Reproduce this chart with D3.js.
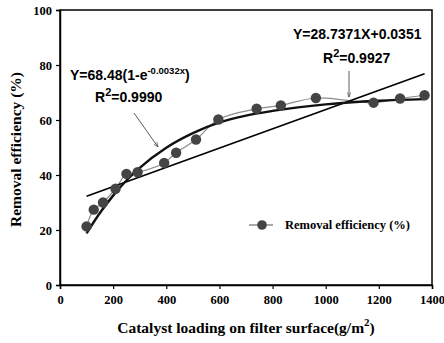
<!DOCTYPE html>
<html>
<head>
<meta charset="utf-8">
<script src="https://cdn.jsdelivr.net/npm/d3@7"></script>
<style>
body { margin: 0; background: #fff; }
svg text { fill: #000; }
</style>
</head>
<body>
<div id="chart"></div>
<script>
const loading = [100, 127, 162, 209, 250, 292, 392, 437, 512, 596, 740, 831, 963, 1180, 1280, 1372];
const removal = [21.3, 27.4, 30.0, 35.0, 40.4, 41.0, 44.4, 48.1, 52.9, 60.2, 64.1, 65.3, 68.0, 66.3, 67.8, 69.0];

// exponential fit curve
const fitX = [100, 150, 200, 250, 300, 400, 500, 600, 700, 800, 1000, 1200, 1372];
const fitY = [18.8, 26.2, 32.5, 38.0, 42.6, 49.9, 55.2, 59.1, 61.6, 63.3, 65.7, 67.0, 67.6];

// linear fit ends
const linX = [100, 1372];
const linY = [32.3, 76.8];

const xTicks = [0, 200, 400, 600, 800, 1000, 1200, 1400];
const yTicks = [0, 20, 40, 60, 80, 100];

const width = 444, height = 343;
const margin = {left: 60, right: 12, top: 10, bottom: 58};

const svg = d3.select("#chart").append("svg")
    .attr("width", width)
    .attr("height", height);

const x = d3.scaleLinear().domain([0, 1400]).range([margin.left, width - margin.right]);
const y = d3.scaleLinear().domain([0, 100]).range([height - margin.bottom, margin.top]);

// frame
svg.append("rect")
    .attr("x", x(0)).attr("y", y(100))
    .attr("width", x(1400) - x(0)).attr("height", y(0) - y(100))
    .attr("fill", "none").attr("stroke", "#000").attr("stroke-width", 1.5);

const xAxis = svg.append("g")
    .attr("transform", `translate(0,${y(0)})`)
    .call(d3.axisBottom(x).tickValues(xTicks).tickFormat(d3.format("d")).tickSize(4).tickPadding(6));
const yAxis = svg.append("g")
    .attr("transform", `translate(${x(0)},0)`)
    .call(d3.axisLeft(y).tickValues(yTicks).tickFormat(d3.format("d")).tickSize(4).tickPadding(4));

[xAxis, yAxis].forEach(a => {
    a.select(".domain").attr("stroke-width", 1.5);
    a.selectAll("line").attr("stroke-width", 1.2);
    a.selectAll("text")
        .attr("font-family", "Liberation Serif")
        .attr("font-weight", "bold")
        .attr("font-size", 12.5)
        .attr("fill", "#000");
});

// axis titles
svg.append("text")
    .attr("x", (x(0) + x(1400)) / 2).attr("y", 333)
    .attr("text-anchor", "middle")
    .attr("font-family", "Liberation Serif").attr("font-weight", "bold").attr("font-size", 15.5)
    .html('Catalyst loading on filter surface(g/m<tspan dy="-7" font-size="11">2</tspan><tspan dy="7">)</tspan>');

svg.append("text")
    .attr("transform", `translate(21,${(y(0) + y(100)) / 2 + 2}) rotate(-90)`)
    .attr("text-anchor", "middle")
    .attr("font-family", "Liberation Serif").attr("font-weight", "bold").attr("font-size", 15.5)
    .text("Removal efficiency (%)");

// data series with smoothed line
const pts = loading.map((d, i) => [d, removal[i]]);
svg.append("path")
    .datum(pts)
    .attr("fill", "none").attr("stroke", "#8c8c8c").attr("stroke-width", 1.2)
    .attr("d", d3.line().x(d => x(d[0])).y(d => y(d[1])).curve(d3.curveCatmullRom));

// linear fit
svg.append("line")
    .attr("x1", x(linX[0])).attr("y1", y(linY[0]))
    .attr("x2", x(linX[1])).attr("y2", y(linY[1]))
    .attr("stroke", "#000").attr("stroke-width", 1.6);

// exponential fit
svg.append("path")
    .datum(fitX.map((d, i) => [d, fitY[i]]))
    .attr("fill", "none").attr("stroke", "#111").attr("stroke-width", 2.4)
    .attr("d", d3.line().x(d => x(d[0])).y(d => y(d[1])).curve(d3.curveMonotoneX));

svg.selectAll("circle.pt")
    .data(pts)
    .enter().append("circle")
    .attr("class", "pt")
    .attr("cx", d => x(d[0])).attr("cy", d => y(d[1]))
    .attr("r", 5.2)
    .attr("fill", "#444");

// arrows
svg.append("defs").append("marker")
    .attr("id", "arr").attr("viewBox", "0 0 10 10")
    .attr("refX", 10).attr("refY", 5)
    .attr("markerWidth", 6).attr("markerHeight", 6)
    .attr("orient", "auto")
    .append("path").attr("d", "M0,1 L10,5 L0,9").attr("fill", "none").attr("stroke", "#333").attr("stroke-width", 1.2);

svg.append("line")
    .attr("x1", 134).attr("y1", 113)
    .attr("x2", 158).attr("y2", 147)
    .attr("stroke", "#333").attr("stroke-width", 0.8).attr("marker-end", "url(#arr)");
svg.append("line")
    .attr("x1", 349).attr("y1", 71)
    .attr("x2", 349).attr("y2", 97)
    .attr("stroke", "#333").attr("stroke-width", 0.8).attr("marker-end", "url(#arr)");

// equation labels
const lab = (tx, ty, html) => svg.append("text")
    .attr("x", tx).attr("y", ty)
    .attr("font-family", "Liberation Sans").attr("font-weight", "bold").attr("font-size", 14)
    .html(html);

lab(70, 80, 'Y=68.48(1-e<tspan dy="-6" font-size="9.5">-0.0032x</tspan><tspan dy="6">)</tspan>');
lab(95, 102, 'R<tspan dy="-6" font-size="11">2</tspan><tspan dy="6">=0.9990</tspan>');
lab(293, 39, 'Y=28.7371X+0.0351');
lab(323, 63, 'R<tspan dy="-6" font-size="11">2</tspan><tspan dy="6">=0.9927</tspan>');

// legend
const lg = svg.append("g").attr("transform", "translate(249,225)");
lg.append("line").attr("x1", 0).attr("x2", 24).attr("y1", 0).attr("y2", 0)
    .attr("stroke", "#8c8c8c").attr("stroke-width", 1.5);
lg.append("circle").attr("cx", 13).attr("cy", 0).attr("r", 4.8).attr("fill", "#444");
lg.append("text").attr("x", 36).attr("y", 4)
    .attr("font-family", "Liberation Serif").attr("font-weight", "bold").attr("font-size", 12.5)
    .text("Removal efficiency (%)");
</script>
</body>
</html>
